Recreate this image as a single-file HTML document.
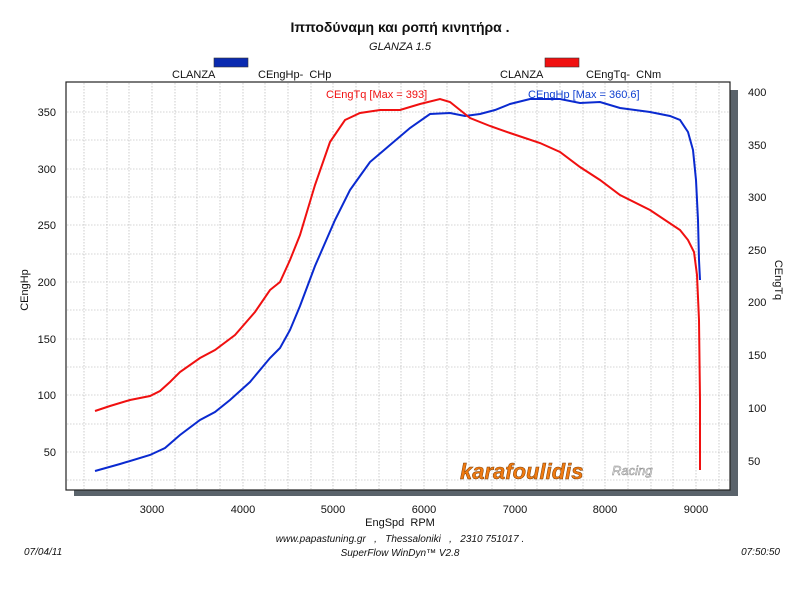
<!DOCTYPE html>
<html><head><meta charset="utf-8"><style>
body{margin:0;background:#fff;width:800px;height:600px;overflow:hidden}
svg{display:block}
text{font-family:"Liberation Sans","DejaVu Sans",sans-serif}
</style></head><body>
<svg width="800" height="600" viewBox="0 0 800 600" xmlns="http://www.w3.org/2000/svg">
<text x="400" y="32" font-size="14" font-weight="bold" text-anchor="middle" fill="#111">Ιπποδύναμη και ροπή κινητήρα .</text>
<text x="400" y="50" font-size="11" font-style="italic" text-anchor="middle" fill="#111">GLANZA 1.5</text>
<rect x="214" y="58" width="34" height="9" fill="#0a2ab0" stroke="#333" stroke-width="0.6"/>
<rect x="545" y="58" width="34" height="9" fill="#f01010" stroke="#333" stroke-width="0.6"/>
<text x="172" y="78" font-size="11" fill="#111">CLANZA</text>
<text x="258" y="78" font-size="11" fill="#111">CEngHp-&#160; CHp</text>
<text x="500" y="78" font-size="11" fill="#111">CLANZA</text>
<text x="586" y="78" font-size="11" fill="#111">CEngTq-&#160; CNm</text>
<rect x="74" y="90" width="664" height="406" fill="#5a636b"/>
<rect x="66" y="82" width="664" height="408" fill="#fff" stroke="#222" stroke-width="1.2"/>
<g stroke="#aaa" stroke-width="0.6" stroke-dasharray="1.5,1.5">
<line x1="84" y1="83" x2="84" y2="489"/><line x1="107" y1="83" x2="107" y2="489"/><line x1="129" y1="83" x2="129" y2="489"/><line x1="152" y1="83" x2="152" y2="489"/><line x1="175" y1="83" x2="175" y2="489"/><line x1="197" y1="83" x2="197" y2="489"/><line x1="220" y1="83" x2="220" y2="489"/><line x1="243" y1="83" x2="243" y2="489"/><line x1="265" y1="83" x2="265" y2="489"/><line x1="288" y1="83" x2="288" y2="489"/><line x1="311" y1="83" x2="311" y2="489"/><line x1="333" y1="83" x2="333" y2="489"/><line x1="356" y1="83" x2="356" y2="489"/><line x1="379" y1="83" x2="379" y2="489"/><line x1="401" y1="83" x2="401" y2="489"/><line x1="424" y1="83" x2="424" y2="489"/><line x1="447" y1="83" x2="447" y2="489"/><line x1="469" y1="83" x2="469" y2="489"/><line x1="492" y1="83" x2="492" y2="489"/><line x1="515" y1="83" x2="515" y2="489"/><line x1="537" y1="83" x2="537" y2="489"/><line x1="560" y1="83" x2="560" y2="489"/><line x1="583" y1="83" x2="583" y2="489"/><line x1="605" y1="83" x2="605" y2="489"/><line x1="628" y1="83" x2="628" y2="489"/><line x1="651" y1="83" x2="651" y2="489"/><line x1="673" y1="83" x2="673" y2="489"/><line x1="696" y1="83" x2="696" y2="489"/><line x1="719" y1="83" x2="719" y2="489"/>
<line x1="67" y1="112" x2="729" y2="112"/><line x1="67" y1="140" x2="729" y2="140"/><line x1="67" y1="169" x2="729" y2="169"/><line x1="67" y1="197" x2="729" y2="197"/><line x1="67" y1="225" x2="729" y2="225"/><line x1="67" y1="254" x2="729" y2="254"/><line x1="67" y1="282" x2="729" y2="282"/><line x1="67" y1="310" x2="729" y2="310"/><line x1="67" y1="339" x2="729" y2="339"/><line x1="67" y1="367" x2="729" y2="367"/><line x1="67" y1="395" x2="729" y2="395"/><line x1="67" y1="424" x2="729" y2="424"/><line x1="67" y1="452" x2="729" y2="452"/><line x1="67" y1="480" x2="729" y2="480"/>
</g>
<g font-size="11" fill="#111" text-anchor="end">
<text x="56" y="116">350</text><text x="56" y="173">300</text><text x="56" y="229">250</text><text x="56" y="286">200</text><text x="56" y="343">150</text><text x="56" y="399">100</text><text x="56" y="456">50</text>
</g>
<g font-size="11" fill="#111">
<text x="748" y="96">400</text><text x="748" y="149">350</text><text x="748" y="201">300</text><text x="748" y="254">250</text><text x="748" y="306">200</text><text x="748" y="359">150</text><text x="748" y="412">100</text><text x="748" y="465">50</text>
</g>
<g font-size="11" fill="#111" text-anchor="middle">
<text x="152" y="513">3000</text><text x="243" y="513">4000</text><text x="333" y="513">5000</text><text x="424" y="513">6000</text><text x="515" y="513">7000</text><text x="605" y="513">8000</text><text x="696" y="513">9000</text>
<text x="400" y="526">EngSpd&#160; RPM</text>
</g>
<text x="28" y="290" font-size="11" fill="#111" text-anchor="middle" transform="rotate(-90 28 290)">CEngHp</text>
<text x="775" y="280" font-size="11" fill="#111" text-anchor="middle" transform="rotate(90 775 280)">CEngTq</text>
<text x="326" y="98" font-size="11" fill="#f01010">CEngTq [Max = 393]</text>
<text x="528" y="98" font-size="11" fill="#1040d0">CEngHp [Max = 360.6]</text>
<polyline fill="none" stroke="#0a2ad0" stroke-width="2" points="95,471 120,464 150,455 165,448 180,435 200,420 215,412 230,400 250,382 270,358 280,348 290,330 300,306 315,266 335,220 350,190 360,176 370,162 390,145 410,128 430,114 450,113 465,116 480,114 495,110 510,104 530,99 560,99 580,103 600,102 620,108 650,112 670,116 680,120 688,132 693,150 696,180 698,220 699,260 700,280"/>
<polyline fill="none" stroke="#f01010" stroke-width="2" points="95,411 110,406 130,400 150,396 160,391 170,382 180,372 200,358 215,350 235,335 255,312 270,290 280,282 290,260 300,235 315,185 330,142 345,120 360,113 380,110 400,110 420,104 440,99 450,102 460,110 470,118 490,126 510,133 540,143 560,152 580,167 600,180 620,195 650,210 680,230 688,240 694,252 697,275 699,320 700,400 700,470"/>
<text x="460" y="479" font-size="22" font-weight="bold" font-style="italic" fill="#f07a10" stroke="#7a3a00" stroke-width="0.5">karafoulidis</text>
<text x="612" y="475" font-size="13" font-style="italic" fill="#eee" stroke="#888" stroke-width="0.5">Racing</text>
<g font-size="10" font-style="italic" fill="#111" text-anchor="middle">
<text x="400" y="542">www.papastuning.gr&#160;&#160; ,&#160;&#160; Thessaloniki&#160;&#160; ,&#160;&#160; 2310 751017 .</text>
<text x="400" y="556">SuperFlow WinDyn™ V2.8</text>
</g>
<text x="24" y="555" font-size="10" font-style="italic" fill="#111">07/04/11</text>
<text x="780" y="555" font-size="10" font-style="italic" fill="#111" text-anchor="end">07:50:50</text>
</svg>
</body></html>
